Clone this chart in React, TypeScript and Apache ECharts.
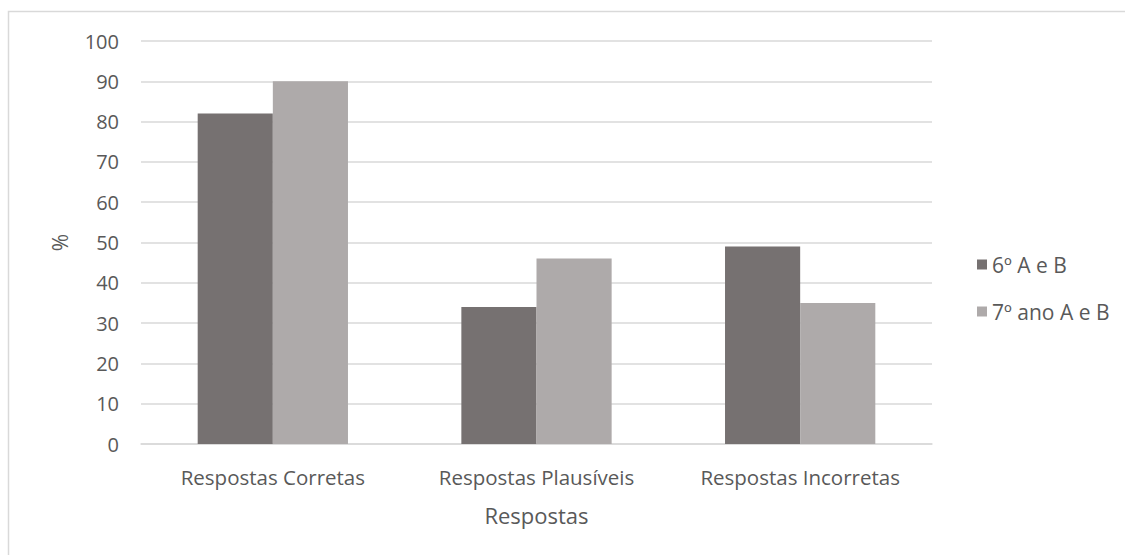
import React, { useEffect, useRef } from "react";
import * as echarts from "echarts";

const categories = ["Respostas Corretas", "Respostas Plausíveis", "Respostas Incorretas"];
const seriesNames = ["6º A e B", "7º ano A e B"];
const values6 = [82, 34, 49];
const values7 = [90, 46, 35];
const colors = ["#767171", "#AEAAAA"];

const FONT = "Open Sans";
const TXT = "#595959";

export default function App() {
  const ref = useRef<HTMLDivElement>(null);
  useEffect(() => {
    if (!ref.current) return;
    const chart = echarts.init(ref.current, null, { renderer: "svg" });
    chart.setOption({
      animation: false,
      backgroundColor: "#ffffff",
      textStyle: { fontFamily: FONT, color: TXT },
      graphic: [
        {
          type: "rect",
          shape: { x: 8.5, y: 11.5, width: 1300, height: 700 },
          style: { fill: "none", stroke: "#D9D9D9", lineWidth: 1.5 },
          silent: true,
        },
      ],
      grid: { left: 141, right: 193, top: 41, bottom: 111, containLabel: false },
      legend: {
        orient: "vertical",
        left: 972,
        top: 249,
        itemWidth: 10,
        itemHeight: 10,
        itemGap: 26,
        icon: "rect",
        textStyle: { fontFamily: FONT, fontSize: 21, color: TXT },
        data: seriesNames,
      },
      xAxis: {
        type: "category",
        data: categories,
        name: "Respostas",
        nameLocation: "middle",
        nameGap: 60,
        nameTextStyle: { fontFamily: FONT, fontSize: 22, color: TXT },
        axisLine: { lineStyle: { color: "#D9D9D9", width: 1.5 } },
        axisTick: { show: false },
        axisLabel: {
          fontFamily: FONT,
          fontSize: 20.5,
          color: TXT,
          margin: 22,
          interval: 0,
          hideOverlap: false,
        },
      },
      yAxis: {
        type: "value",
        min: 0,
        max: 100,
        interval: 10,
        name: "%",
        nameLocation: "middle",
        nameGap: 71,
        nameTextStyle: { fontFamily: FONT, fontSize: 21, color: TXT },
        axisLine: { show: false },
        axisTick: { show: false },
        axisLabel: { fontFamily: FONT, fontSize: 20, color: TXT, margin: 22 },
        splitLine: { lineStyle: { color: "#D9D9D9", width: 1.5 } },
      },
      series: [
        {
          name: seriesNames[0],
          type: "bar",
          data: values6,
          itemStyle: { color: colors[0] },
          barGap: "0%",
          barCategoryGap: "43%",
        },
        {
          name: seriesNames[1],
          type: "bar",
          data: values7,
          itemStyle: { color: colors[1] },
          barGap: "0%",
          barCategoryGap: "43%",
        },
      ],
    });
    return () => chart.dispose();
  }, []);
  return (
    <div
      ref={ref}
      style={{ position: "absolute", left: 0, top: 0, width: 1125, height: 555 }}
    />
  );
}
